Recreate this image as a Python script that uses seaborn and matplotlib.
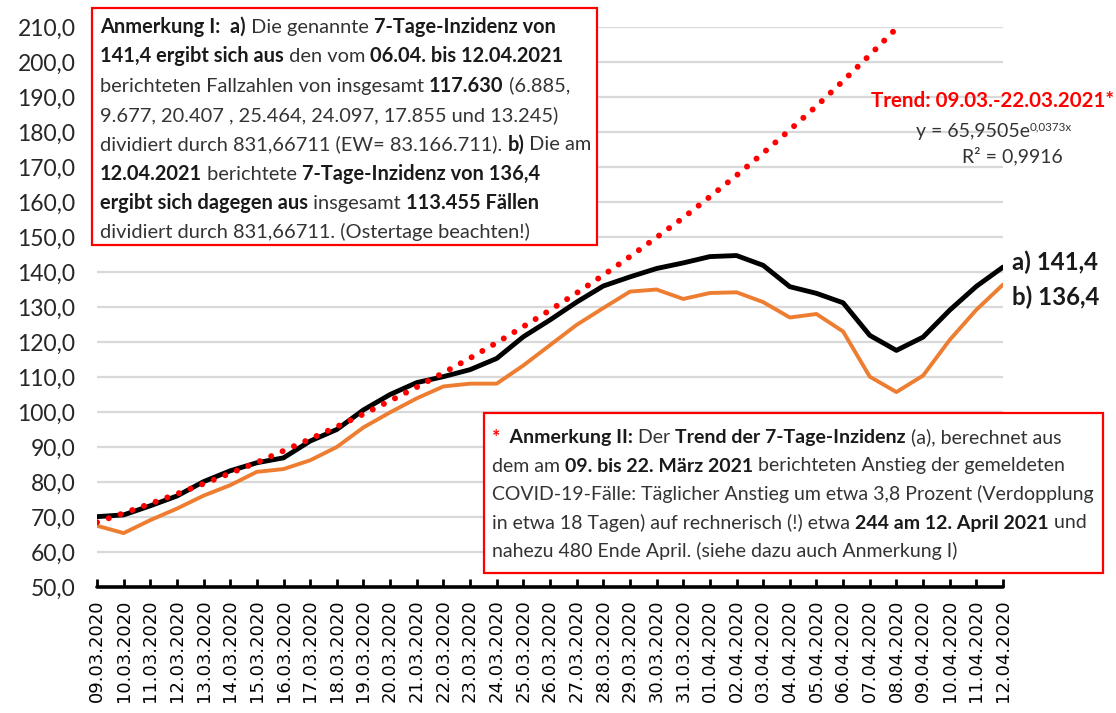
import pandas as pd
import seaborn as sns
import matplotlib.pyplot as plt
from matplotlib.patches import Rectangle
from matplotlib.ticker import FuncFormatter

# --- data ---
dates = ['09.03.2020', '10.03.2020', '11.03.2020', '12.03.2020', '13.03.2020', '14.03.2020',
         '15.03.2020', '16.03.2020', '17.03.2020', '18.03.2020', '19.03.2020', '20.03.2020',
         '21.03.2020', '22.03.2020', '23.03.2020', '24.03.2020', '25.03.2020', '26.03.2020',
         '27.03.2020', '28.03.2020', '29.03.2020', '30.03.2020', '31.03.2020', '01.04.2020',
         '02.04.2020', '03.04.2020', '04.04.2020', '05.04.2020', '06.04.2020', '07.04.2020',
         '08.04.2020', '09.04.2020', '10.04.2020', '11.04.2020', '12.04.2020']
inz_a = [70.1, 70.6, 73.2, 76.0, 80.1, 83.2, 85.5, 86.9, 91.7, 95.0, 100.6, 105.0,
         108.4, 110.1, 112.1, 115.3, 121.5, 126.3, 131.4, 136.0, 138.6, 141.0, 142.6, 144.4,
         144.7, 141.9, 135.8, 133.9, 131.2, 121.9, 117.6, 121.4, 129.1, 135.9, 141.4]
inz_b = [67.5, 65.4, 69.1, 72.4, 76.1, 79.1, 82.9, 83.7, 86.2, 90.0, 95.6, 99.9,
         103.9, 107.3, 108.1, 108.1, 113.3, 119.1, 124.9, 129.7, 134.4, 135.0, 132.3, 134.0,
         134.2, 131.4, 127.0, 128.0, 123.0, 110.1, 105.7, 110.4, 120.6, 129.2, 136.4]
# dotted trend line (runs off the top of the axis after 08.04.)
trend = [68.5, 71.1, 73.8, 76.6, 79.5, 82.5, 85.6, 88.9, 92.3, 95.8, 99.4, 103.2,
         107.1, 111.2, 115.4, 119.8, 124.4, 129.1, 134.0, 139.1, 144.4, 149.9, 155.5, 161.5,
         167.6, 174.0, 180.6, 187.4, 194.6, 202.0, 209.6, 217.6]

df = pd.DataFrame({'pos': range(len(dates)), 'a': inz_a, 'b': inz_b})
df_tr = pd.DataFrame({'pos': range(len(trend)), 'trend': trend})

sns.set_style('white')
plt.rcParams['font.family'] = ['Lato', 'DejaVu Sans']

W, H = 1116, 713
fig = plt.figure(figsize=(W / 100, H / 100), dpi=100)
ax = fig.add_axes([97 / W, 1 - 587 / H, (1003 - 97) / W, (587 - 27) / H])

sns.lineplot(data=df, x='pos', y='b', ax=ax, color='#ED7D31', lw=2.8, zorder=3)
sns.lineplot(data=df, x='pos', y='a', ax=ax, color='black', lw=3.5, zorder=4)
sns.lineplot(data=df_tr, x='pos', y='trend', ax=ax, color='#FF0000', lw=4.3,
             linestyle=(0, (0.01, 2.07)), dash_capstyle='round', zorder=5)

ax.set_xlim(0, len(dates) - 1)
ax.set_ylim(50, 210)
ax.set_xticks(range(len(dates)))
ax.set_xticklabels(dates, rotation=90, fontfamily='DejaVu Sans', fontsize=13, color='black')
ax.set_yticks(range(50, 211, 10))
ax.yaxis.set_major_formatter(FuncFormatter(lambda v, p: f'{v:.1f}'.replace('.', ',')))
ax.tick_params(axis='y', left=False, length=0, labelsize=16.5, labelcolor='#262626', pad=15.5)
ax.tick_params(axis='x', bottom=True, direction='in', length=5.5, width=2, color='black', pad=9)
ax.yaxis.grid(True, color='#d9d9d9', lw=1.6)
ax.set_axisbelow(True)
for s in ['left', 'top', 'right']:
    ax.spines[s].set_visible(False)
ax.spines['bottom'].set_linewidth(2.6)
ax.spines['bottom'].set_color('black')
ax.spines['bottom'].set_capstyle('round')
ax.set_xlabel('')
ax.set_ylabel('')

# --- annotation text, built from bold / regular runs ---
r = fig.canvas.get_renderer()


def width(s, **kw):
    t = fig.text(0, 0, '|' + s + '|', **kw)
    w1 = t.get_window_extent(renderer=r).width
    t.remove()
    t = fig.text(0, 0, '||', **kw)
    w0 = t.get_window_extent(renderer=r).width
    t.remove()
    return w1 - w0


def put_line(x, y, segs, size, ha='left'):
    kws = []
    for seg in segs:
        s, bold = seg[0], seg[1]
        col = seg[2] if len(seg) > 2 else ('#1a1a1a' if bold else '#333333')
        scale = seg[3] if len(seg) > 3 else 1.0
        dy = seg[4] if len(seg) > 4 else 0
        kws.append((s, dict(fontsize=size * scale, fontweight='bold' if bold else 'normal',
                            color=col), dy))
    ws = [width(s, **kw) for s, kw, dy in kws]
    if ha == 'center':
        x -= sum(ws) / 2
    for (s, kw, dy), w in zip(kws, ws):
        fig.text(x / W, 1 - (y - dy) / H, s, va='baseline', ha='left', zorder=11, **kw)
        x += w


box1 = [
    [('Anmerkung I:  a)', True), (' Die genannte ', False), ('7-Tage-Inzidenz von', True)],
    [('141,4 ergibt sich aus', True), (' den vom ', False), ('06.04. bis 12.04.2021', True)],
    [('berichteten Fallzahlen von insgesamt ', False), ('117.630', True), (' (6.885,', False)],
    [('9.677, 20.407 , 25.464, 24.097, 17.855 und 13.245)', False)],
    [('dividiert durch 831,66711 (EW= 83.166.711). ', False), ('b)', True), (' Die am', False)],
    [('12.04.2021', True), (' berichtete ', False), ('7-Tage-Inzidenz von 136,4', True)],
    [('ergibt sich dagegen aus', True), (' insgesamt ', False), ('113.455 Fällen', True)],
    [('dividiert durch 831,66711. (Ostertage beachten!)', False)],
]
for i, line in enumerate(box1):
    put_line(100, 33 + i * 29.3, line, 14.4)

box2 = [
    [('*', True, '#FF0000'), ('  Anmerkung II:', True), (' Der ', False),
     ('Trend der 7-Tage-Inzidenz', True), (' (a), berechnet aus', False)],
    [('dem am ', False), ('09. bis 22. März 2021', True),
     (' berichteten Anstieg der gemeldeten', False)],
    [('COVID-19-Fälle: Täglicher Anstieg um etwa 3,8 Prozent (Verdopplung', False)],
    [('in etwa 18 Tagen) auf rechnerisch (!) etwa ', False), ('244 am 12. April 2021', True),
     (' und', False)],
    [('nahezu 480 Ende April. (siehe dazu auch Anmerkung I)', False)],
]
for i, line in enumerate(box2):
    put_line(492, 443 + i * 28.5, line, 14.0)

for (x0, y0, x1, y1) in [(92, 8, 597, 245), (484, 413, 1103, 573)]:
    fig.patches.append(Rectangle((x0 / W, 1 - y1 / H), (x1 - x0) / W, (y1 - y0) / H,
                                 transform=fig.transFigure, fill=True, facecolor='white',
                                 edgecolor='#FF0000', lw=1.6, zorder=10))

put_line(993, 107, [('Trend: 09.03.-22.03.2021*', True, '#FF0000')], 14.8, ha='center')
put_line(994, 137, [('y = 65,9505e', False), ('0,0373x', False, '#333333', 0.6, 7)], 14,
         ha='center')
put_line(1012, 162, [('R² = 0,9916', False)], 14, ha='center')

put_line(1012, 270, [('a) 141,4', True, '#1a1a1a')], 17.3)
put_line(1012, 305, [('b) 136,4', True, '#1a1a1a')], 17.3)

fig.savefig('out.png', dpi=100)
